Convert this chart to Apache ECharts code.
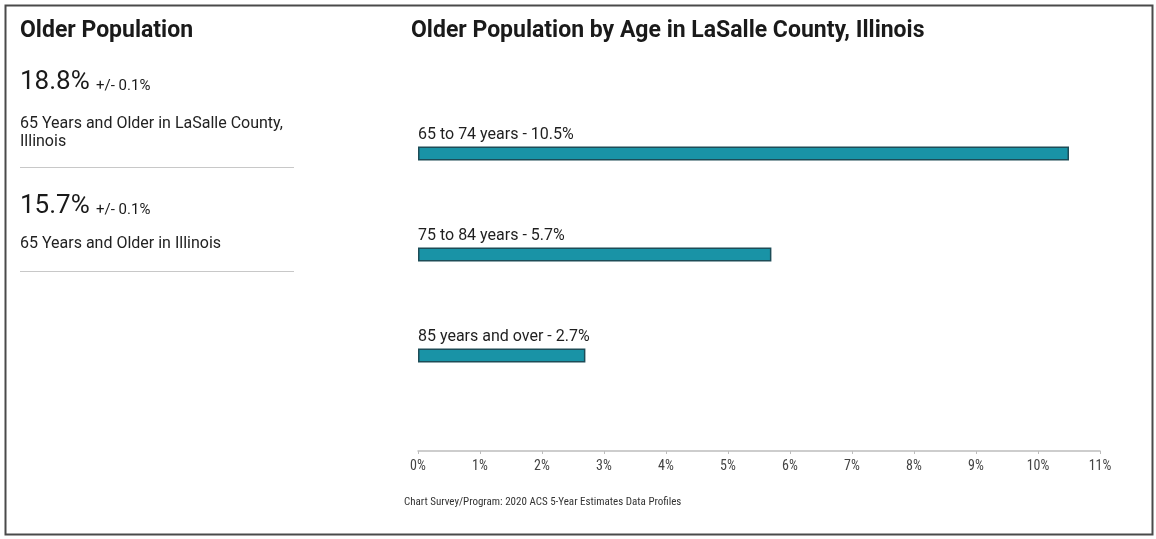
<!DOCTYPE html>
<html>
<head>
<meta charset="utf-8">
<title>Older Population by Age in LaSalle County, Illinois</title>
<script src="https://cdn.jsdelivr.net/npm/echarts@6/dist/echarts.min.js"></script>
<style>
  html, body { margin: 0; padding: 0; background: #fff; }
  #chart { width: 1156px; height: 539px; }
</style>
</head>
<body>
<div id="chart"></div>
<script>
// Age groups and their share of the county population (%)
const ageGroups = ['65 to 74 years', '75 to 84 years', '85 years and over'];
const ageShares = [10.5, 5.7, 2.7];

// Axis scale (percent)
const axisMin = 0;
const axisMax = 11;
const axisStep = 1;

// Summary figures on the left
const summaryValues = ['18.8%', '15.7%'];
const summaryMargins = ['+/- 0.1%', '+/- 0.1%'];
const summaryCaptions = [
  '65 Years and Older in LaSalle County,\nIllinois',
  '65 Years and Older in Illinois'
];

const chartTitle = 'Older Population by Age in LaSalle County, Illinois';
const panelTitle = 'Older Population';
const sourceNote = 'Chart Survey/Program: 2020 ACS 5-Year Estimates Data Profiles';

const FONT = 'Roboto, "Noto Sans", sans-serif';
const NARROW = '"Roboto Condensed", "Liberation Sans Narrow", "DejaVu Sans Condensed", sans-serif';

const chart = echarts.init(document.getElementById('chart'), null, { renderer: 'canvas' });

// Left-hand summary blocks
const summaryGraphics = [];
const blockBaselines = [93, 217];
const captionCenters = [124, 244];
const dividerYs = [167.5, 271.5];
summaryValues.forEach((v, i) => {
  summaryGraphics.push({
    type: 'text', left: 20, top: blockBaselines[i] - 24,
    style: { text: v, font: '400 26px ' + FONT, fill: '#1a1a1a' }
  });
  summaryGraphics.push({
    type: 'text', left: 96, top: blockBaselines[i] - 14,
    style: { text: summaryMargins[i], font: '400 15px ' + FONT, fill: '#1a1a1a' }
  });
  summaryGraphics.push({
    type: 'text', left: 20, top: captionCenters[i] - 9,
    style: { text: summaryCaptions[i], font: '400 16px ' + FONT, fill: '#222', lineHeight: 18 }
  });
  summaryGraphics.push({
    type: 'line',
    shape: { x1: 20, y1: dividerYs[i], x2: 294, y2: dividerYs[i] },
    style: { stroke: '#c8c8c8', lineWidth: 1.2 }
  });
});

const option = {
  backgroundColor: '#ffffff',
  animation: false,
  textStyle: { fontFamily: FONT },
  grid: { left: 418, right: 56, top: 103, bottom: 133 },
  xAxis: {
    type: 'value',
    min: axisMin,
    max: axisMax,
    interval: axisStep,
    offset: 45,
    axisLine: { show: true, lineStyle: { color: '#bdbdbd', width: 1.5 } },
    axisTick: { show: true, length: 3, lineStyle: { color: '#bdbdbd' } },
    splitLine: { show: false },
    axisLabel: {
      formatter: '{value}%',
      color: '#444',
      fontSize: 14,
      fontWeight: 400,
      fontFamily: NARROW,
      margin: 8
    }
  },
  yAxis: {
    type: 'category',
    data: ageGroups,
    inverse: true,
    axisLine: { show: false },
    axisTick: { show: false },
    axisLabel: { show: false },
    splitLine: { show: false }
  },
  series: [{
    type: 'bar',
    data: ageShares,
    barWidth: 14,
    itemStyle: { color: '#1993a6', borderColor: '#1d4c57', borderWidth: 1.5 },
    label: {
      show: true,
      position: [0, -4],
      align: 'left',
      verticalAlign: 'bottom',
      color: '#1f1f1f',
      fontSize: 16,
      fontFamily: FONT,
      formatter: p => p.name + ' - ' + p.value + '%'
    }
  }],
  graphic: [
    {
      type: 'rect',
      shape: { x: 5.5, y: 5.5, width: 1147, height: 529 },
      style: { fill: 'none', stroke: '#4a4a4a', lineWidth: 2 }
    },
    {
      type: 'text', left: 20, top: 20,
      style: { text: panelTitle, font: '700 23px ' + FONT, fill: '#1a1a1a' }
    },
    {
      type: 'text', left: 411, top: 20,
      style: { text: chartTitle, font: '700 23px ' + FONT, fill: '#1a1a1a' }
    },
    {
      type: 'text', left: 404, top: 497,
      style: { text: sourceNote, font: '400 11px ' + NARROW, fill: '#333' }
    }
  ].concat(summaryGraphics)
};

chart.setOption(option);
</script>
</body>
</html>
